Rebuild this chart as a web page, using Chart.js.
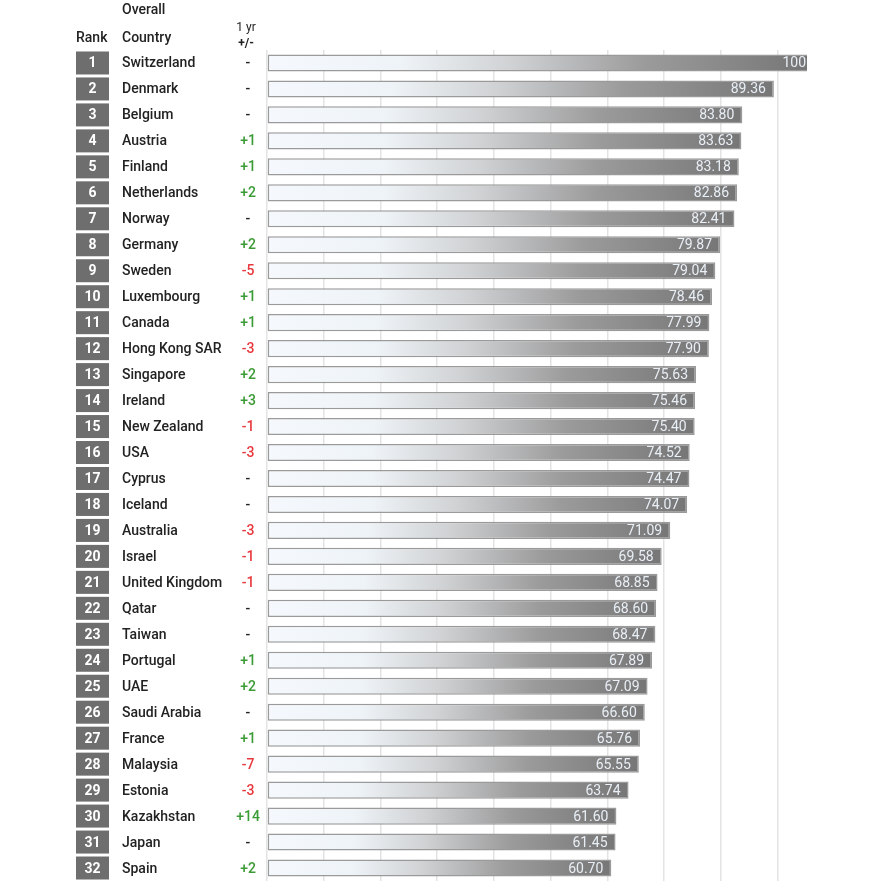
<!DOCTYPE html>
<html>
<head>
<meta charset="utf-8">
<script src="https://cdn.jsdelivr.net/npm/chart.js@4.4.1/dist/chart.umd.min.js"></script>
<style>
html,body{margin:0;padding:0;background:#fff;}
#wrap{width:886px;height:881px;position:relative;}
</style>
</head>
<body>
<div id="wrap"><canvas id="c" width="886" height="881"></canvas></div>
<script>
const ranks = [1,2,3,4,5,6,7,8,9,10,11,12,13,14,15,16,17,18,19,20,21,22,23,24,25,26,27,28,29,30,31,32];
const countries = ["Switzerland","Denmark","Belgium","Austria","Finland","Netherlands","Norway","Germany","Sweden","Luxembourg","Canada","Hong Kong SAR","Singapore","Ireland","New Zealand","USA","Cyprus","Iceland","Australia","Israel","United Kingdom","Qatar","Taiwan","Portugal","UAE","Saudi Arabia","France","Malaysia","Estonia","Kazakhstan","Japan","Spain"];
const scores = [100,89.36,83.80,83.63,83.18,82.86,82.41,79.87,79.04,78.46,77.99,77.90,75.63,75.46,75.40,74.52,74.47,74.07,71.09,69.58,68.85,68.60,68.47,67.89,67.09,66.60,65.76,65.55,63.74,61.60,61.45,60.70];
const changes = ["-","-","-","+1","+1","+2","-","+2","-5","+1","+1","-3","+2","+3","-1","-3","-","-","-3","-1","-1","-","-","+1","+2","-","+1","-7","-3","+14","-","+2"];
const headerTop = "Overall";
const headerRank = "Rank";
const headerCountry = "Country";
const headerChange1 = "1 yr";
const headerChange2 = "+/-";

const FONT = "Roboto, 'DejaVu Sans', sans-serif";

function barGradient(ctx) {
  const chart = ctx.chart;
  const area = chart.chartArea;
  if (!area || ctx.type !== 'data') return '#b0b0b0';
  const xs = chart.scales.x;
  const x0 = xs.getPixelForValue(0);
  let x1 = Math.min(xs.getPixelForValue(ctx.raw), area.right);
  const g = chart.ctx.createLinearGradient(x0, 0, x1, 0);
  g.addColorStop(0, '#f5f9fd');
  g.addColorStop(0.25, '#eef3f7');
  g.addColorStop(0.45, '#d0d2d4');
  g.addColorStop(0.7, '#9b9b9b');
  g.addColorStop(1, '#767676');
  return g;
}

const sidePlugin = {
  id: 'side',
  afterDatasetsDraw(chart) {
    const c = chart.ctx;
    const ys = chart.scales.y;
    const xs = chart.scales.x;
    const area = chart.chartArea;
    c.save();
    // header
    c.fillStyle = '#222';
    c.textBaseline = 'middle';
    c.textAlign = 'left';
    c.font = "500 14px " + FONT;
    c.fillText(headerTop, 122, 10);
    c.fillText(headerRank, 76, 38);
    c.fillText(headerCountry, 122, 38);
    c.textAlign = 'center';
    c.font = "12px " + FONT;
    c.fillText(headerChange1, 246, 28);
    c.font = "bold 12px " + FONT;
    c.fillText(headerChange2, 246, 44);

    countries.forEach((name, i) => {
      const y = ys.getPixelForValue(i);
      // rank box
      c.fillStyle = '#6e6e6e';
      c.fillRect(76, y - 11.5, 33, 23);
      c.fillStyle = '#ffffff';
      c.font = "bold 14px " + FONT;
      c.textAlign = 'center';
      c.fillText(String(ranks[i]), 92.5, y + 1);
      // country
      c.fillStyle = '#222';
      c.font = "500 14px " + FONT;
      c.textAlign = 'left';
      c.fillText(name, 122, y + 1);
      // change
      const ch = changes[i];
      c.fillStyle = ch.startsWith('+') ? '#3b9b34' : (ch.length > 1 ? '#e8383d' : '#222');
      c.textAlign = 'center';
      c.font = "500 14px " + FONT;
      c.fillText(ch, 248, y + 1);
      // value label
      const v = scores[i];
      const txt = Number.isInteger(v) ? String(v) : v.toFixed(2);
      const xe = xs.getPixelForValue(v);
      const right = xe > area.right ? area.right - 1 : xe - 8;
      c.fillStyle = '#e9eff6';
      c.font = "14px " + FONT;
      c.textAlign = 'right';
      c.fillText(txt, right, y + 1);
    });
    c.restore();
  }
};

new Chart(document.getElementById('c'), {
  type: 'bar',
  data: {
    labels: countries,
    datasets: [{
      data: scores,
      backgroundColor: barGradient,
      borderColor: '#9a9a9a',
      borderWidth: 1.5,
      borderSkipped: false,
      barPercentage: 0.66,
      categoryPercentage: 1.0,
      clip: 0
    }]
  },
  options: {
    indexAxis: 'y',
    responsive: false,
    animation: false,
    devicePixelRatio: 1,
    layout: { padding: { left: 267, right: 79, top: 50, bottom: 0 } },
    plugins: { legend: { display: false }, tooltip: { enabled: false } },
    scales: {
      x: {
        min: 0,
        max: 95.2,
        position: 'bottom',
        afterBuildTicks(scale) {
          scale.ticks = scale.ticks.filter(t => Math.abs(Math.round(t.value / 10) * 10 - t.value) < 1e-6);
        },
        ticks: { display: false, stepSize: 10, includeBounds: false },
        grid: { color: '#e3e3e3', lineWidth: 1.5, drawTicks: false },
        border: { display: false }
      },
      y: {
        display: false
      }
    }
  },
  plugins: [sidePlugin]
});
</script>
</body>
</html>
